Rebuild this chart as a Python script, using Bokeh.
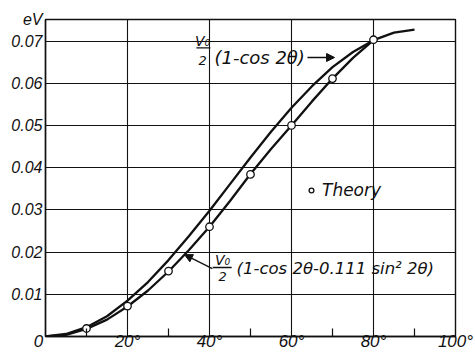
from bokeh.plotting import figure
from bokeh.models import FixedTicker, Label, Arrow, NormalHead, Range1d, Legend, LegendItem
from bokeh.embed import file_html
from bokeh.resources import INLINE

# ---- data ----
theta_upper = [0, 5, 10, 15, 20, 25, 30, 35, 40, 45, 50, 55, 60, 65, 70, 75, 80, 85, 90]
ev_upper = [0.0, 0.0006, 0.0022, 0.0048, 0.0085, 0.0129, 0.0181, 0.0238, 0.0298, 0.0361,
            0.0424, 0.0485, 0.0542, 0.0593, 0.0638, 0.0674, 0.0702, 0.0720, 0.0727]
theta_lower = [0, 5, 10, 15, 20, 25, 30, 35, 40, 45, 50, 55, 60, 65, 70, 75, 80]
ev_lower = [0.0, 0.0004, 0.0018, 0.0040, 0.0071, 0.0109, 0.0154, 0.0205, 0.0260, 0.0321,
            0.0385, 0.0444, 0.0500, 0.0557, 0.0611, 0.0660, 0.0702]
theory_theta = [10, 20, 30, 40, 50, 60, 70, 80]
theory_ev = [0.0019, 0.0072, 0.0155, 0.0260, 0.0384, 0.0500, 0.0611, 0.0703]

x_ticks = [0, 20, 40, 60, 80, 100]
x_tick_labels = ["0\u00a0\u00a0\u00a0", "20°", "40°", "60°", "80°", "100°"]
x_minor = [10, 30, 50, 70, 90]
y_ticks = [0.01, 0.02, 0.03, 0.04, 0.05, 0.06, 0.07]
y_tick_labels = ["0.01", "0.02", "0.03", "0.04", "0.05", "0.06", "0.07"]
unit_pos = 0.0750
unit_label = "eV"
x_max = 100
y_max = 0.0751

FONT = "DejaVu Sans"
TICK_FONT = "Liberation Sans"
INK = "#111111"

p = figure(width=475, height=355, x_range=Range1d(0, x_max), y_range=Range1d(0, y_max),
           output_backend="svg", toolbar_location=None,
           min_border_left=45, min_border_right=20, min_border_top=19, min_border_bottom=19)
p.background_fill_color = "white"
p.border_fill_color = "white"
p.outline_line_color = INK
p.outline_line_width = 1.4

# grids
p.xgrid.ticker = FixedTicker(ticks=[t for t in x_ticks if 0 < t < x_max])
p.ygrid.ticker = FixedTicker(ticks=y_ticks)
for g in (p.xgrid, p.ygrid):
    g.grid_line_color = INK
    g.grid_line_width = 1.1

# x axis: inward minor ticks, degree labels
xa = p.xaxis[0]
xa.ticker = FixedTicker(ticks=x_ticks, minor_ticks=x_minor)
xa.major_label_overrides = {t: s for t, s in zip(x_ticks, x_tick_labels)}
xa.axis_line_color = INK
xa.axis_line_width = 1.4
xa.major_tick_in = 0
xa.major_tick_out = 0
xa.minor_tick_in = 8
xa.minor_tick_out = 0
xa.minor_tick_line_color = INK
xa.minor_tick_line_width = 1.2
xa.major_label_standoff = -5
xa.major_label_text_font = TICK_FONT
xa.major_label_text_font_style = "italic"
xa.major_label_text_font_size = "17px"
xa.major_label_text_color = INK

# y axis: labels only (plus the unit at the top)
ya = p.yaxis[0]
ya.ticker = FixedTicker(ticks=y_ticks + [unit_pos], minor_ticks=[])
ya.major_label_overrides = {**{t: s for t, s in zip(y_ticks, y_tick_labels)}, unit_pos: unit_label}
ya.axis_line_color = INK
ya.axis_line_width = 1.4
ya.major_tick_in = 0
ya.major_tick_out = 0
ya.minor_tick_in = 0
ya.minor_tick_out = 0
ya.major_label_standoff = 3
ya.major_label_text_font = TICK_FONT
ya.major_label_text_font_style = "italic"
ya.major_label_text_font_size = "16px"
ya.major_label_text_color = INK

# curves
p.line(theta_upper, ev_upper, line_color=INK, line_width=2.3)
p.line(theta_lower, ev_lower, line_color=INK, line_width=2.3)
pts = p.scatter(theory_theta, theory_ev, size=7.5, fill_color="white", line_color=INK, line_width=1.3)

# legend
leg = Legend(items=[LegendItem(label="Theory", renderers=[pts])], location=(260, 136),
             padding=0, margin=0, glyph_width=12, glyph_height=20, label_height=20,
             label_standoff=5, border_line_color=None, background_fill_color=None,
             label_text_font=FONT, label_text_font_style="italic", label_text_font_size="17px",
             label_text_color=INK)
p.add_layout(leg, "center")


def formula(xc, ytop, x0, x1, yb, ybot, xleft, ymid, body, size, xt, yt, xh, yh):
    p.add_layout(Label(x=xc, y=ytop, text="V₀", text_align="center", text_baseline="middle",
                       text_font=FONT, text_font_style="italic", text_font_size="14px", text_color=INK))
    p.add_layout(Arrow(x_start=x0, y_start=yb, x_end=x1, y_end=yb, start=None, end=None,
                       line_color=INK, line_width=1.3))
    p.add_layout(Label(x=xc, y=ybot, text="2", text_align="center", text_baseline="middle",
                       text_font=FONT, text_font_style="italic", text_font_size="13px", text_color=INK))
    p.add_layout(Label(x=xleft, y=ymid, text=body, text_align="left", text_baseline="middle",
                       text_font=FONT, text_font_style="italic", text_font_size=size, text_color=INK))
    p.add_layout(Arrow(x_start=xt, y_start=yt, x_end=xh, y_end=yh,
                       end=NormalHead(size=8, fill_color=INK, line_color=INK, line_width=1),
                       line_color=INK, line_width=1.3))


formula(38.3, 0.0699, 36.8, 40.2, 0.0684, 0.0654, 41.2, 0.0662, "(1-cos 2θ)", "18px",
        63.9, 0.0661, 70.5, 0.0661)
formula(43.2, 0.0182, 40.8, 45.4, 0.01635, 0.0142, 46.6, 0.0161, "(1-cos 2θ-0.111 sin² 2θ)", "16.5px",
        40.7, 0.01607, 33.9, 0.0194)

open("out.html", "w").write(file_html(p, INLINE))
